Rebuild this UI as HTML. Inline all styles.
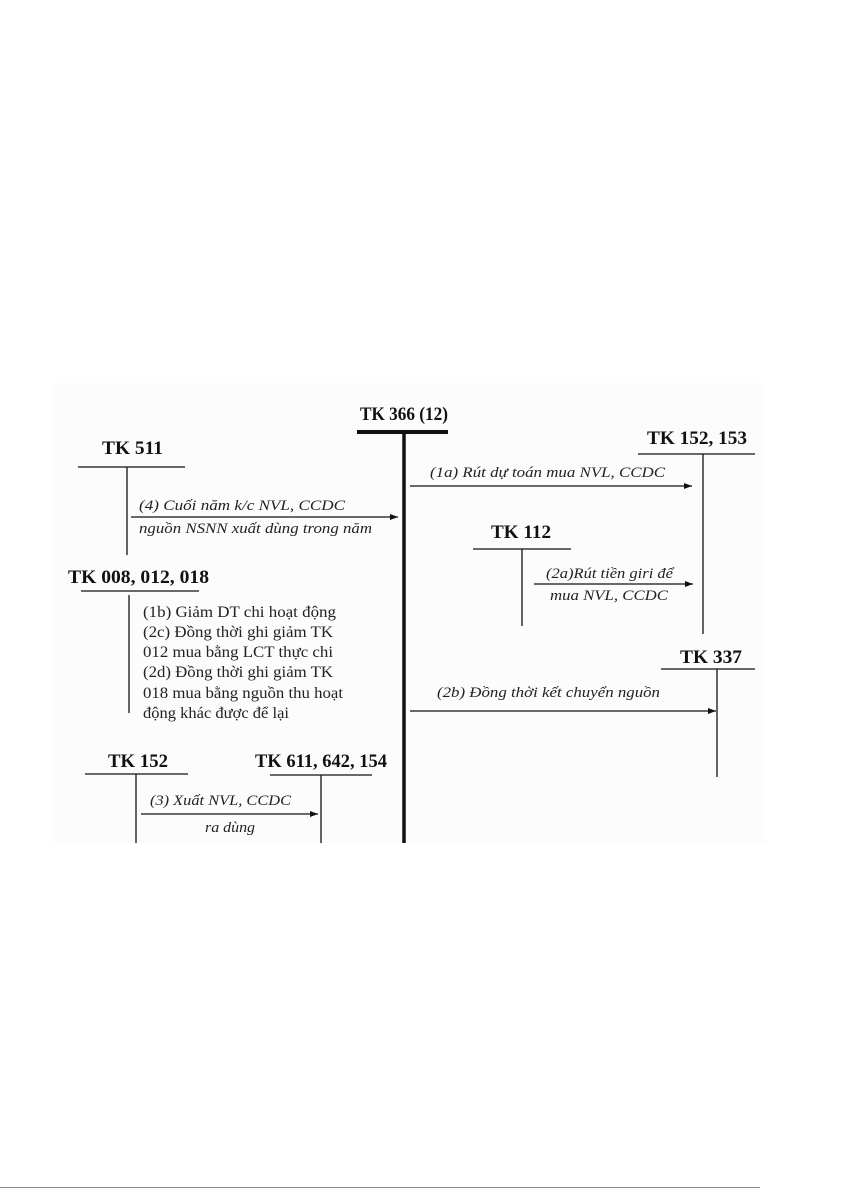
<!DOCTYPE html>
<html><head><meta charset="utf-8"><style>
html,body{margin:0;padding:0;background:#fff;}
svg{display:block}
.b{font-family:"Liberation Serif",serif;font-weight:bold;font-size:19px;fill:#111}
.i{font-family:"Liberation Serif",serif;font-style:italic;font-size:15px;fill:#222}
.r{font-family:"Liberation Serif",serif;font-size:16px;fill:#222}
</style></head><body>
<svg width="841" height="1191" viewBox="0 0 841 1191" xmlns="http://www.w3.org/2000/svg">
<defs><marker id="a" markerWidth="8" markerHeight="6" refX="8" refY="3" orient="auto" markerUnits="userSpaceOnUse"><path d="M0,0 L8,3 L0,6 z" fill="#111"/></marker></defs>
<rect x="52" y="383" width="713" height="460" fill="#fcfcfc"/>
<g stroke="#111" fill="none">
<line x1="357" y1="432" x2="448" y2="432" stroke-width="4"/>
<line x1="404" y1="432" x2="404" y2="843" stroke-width="3.5"/>
<line x1="78" y1="467" x2="185" y2="467" stroke-width="1.3"/>
<line x1="127" y1="467" x2="127" y2="555" stroke-width="1.3"/>
<line x1="131" y1="517" x2="398" y2="517" stroke-width="1.3" marker-end="url(#a)"/>
<line x1="81" y1="591" x2="199" y2="591" stroke-width="1.3"/>
<line x1="129" y1="595" x2="129" y2="713" stroke-width="1.3"/>
<line x1="638" y1="454" x2="755" y2="454" stroke-width="1.3"/>
<line x1="703" y1="454" x2="703" y2="634" stroke-width="1.3"/>
<line x1="410" y1="486" x2="692" y2="486" stroke-width="1.3" marker-end="url(#a)"/>
<line x1="473" y1="549" x2="571" y2="549" stroke-width="1.3"/>
<line x1="522" y1="549" x2="522" y2="626" stroke-width="1.3"/>
<line x1="534" y1="584" x2="693" y2="584" stroke-width="1.3" marker-end="url(#a)"/>
<line x1="661" y1="669" x2="755" y2="669" stroke-width="1.3"/>
<line x1="717" y1="669" x2="717" y2="777" stroke-width="1.3"/>
<line x1="410" y1="711" x2="716" y2="711" stroke-width="1.3" marker-end="url(#a)"/>
<line x1="85" y1="774" x2="188" y2="774" stroke-width="1.3"/>
<line x1="136" y1="774" x2="136" y2="843" stroke-width="1.3"/>
<line x1="270" y1="775" x2="372" y2="775" stroke-width="1.3"/>
<line x1="321" y1="775" x2="321" y2="843" stroke-width="1.3"/>
<line x1="141" y1="814" x2="318" y2="814" stroke-width="1.3" marker-end="url(#a)"/>
<line x1="0" y1="1187.5" x2="760" y2="1187.5" stroke="#888" stroke-width="1"/>
</g>
<text class="b" x="360" y="420" textLength="88" lengthAdjust="spacingAndGlyphs">TK 366 (12)</text>
<text class="b" x="102" y="454" textLength="61" lengthAdjust="spacingAndGlyphs">TK 511</text>
<text class="b" x="68" y="583" textLength="141" lengthAdjust="spacingAndGlyphs">TK 008, 012, 018</text>
<text class="b" x="647" y="444" textLength="100" lengthAdjust="spacingAndGlyphs">TK 152, 153</text>
<text class="b" x="491" y="538" textLength="60" lengthAdjust="spacingAndGlyphs">TK 112</text>
<text class="b" x="680" y="663" textLength="62" lengthAdjust="spacingAndGlyphs">TK 337</text>
<text class="b" x="108" y="767" textLength="60" lengthAdjust="spacingAndGlyphs">TK 152</text>
<text class="b" x="255" y="767" textLength="132" lengthAdjust="spacingAndGlyphs">TK 611, 642, 154</text>
<text class="i" x="139" y="510" textLength="206" lengthAdjust="spacingAndGlyphs">(4) Cuối năm k/c NVL, CCDC</text>
<text class="i" x="139" y="533" textLength="233" lengthAdjust="spacingAndGlyphs">nguồn NSNN xuất dùng trong năm</text>
<text class="i" x="430" y="477" textLength="235" lengthAdjust="spacingAndGlyphs">(1a) Rút dự toán mua NVL, CCDC</text>
<text class="i" x="546" y="578" textLength="127" lengthAdjust="spacingAndGlyphs">(2a)Rút tiền giri để</text>
<text class="i" x="550" y="600" textLength="118" lengthAdjust="spacingAndGlyphs">mua NVL, CCDC</text>
<text class="i" x="437" y="697" textLength="223" lengthAdjust="spacingAndGlyphs">(2b) Đồng thời kết chuyển nguồn</text>
<text class="i" x="150" y="805" textLength="141" lengthAdjust="spacingAndGlyphs">(3) Xuất NVL, CCDC</text>
<text class="i" x="205" y="832" textLength="50" lengthAdjust="spacingAndGlyphs">ra dùng</text>
<text class="r" x="143" y="617" textLength="193" lengthAdjust="spacingAndGlyphs">(1b) Giảm DT chi hoạt động</text>
<text class="r" x="143" y="637" textLength="190" lengthAdjust="spacingAndGlyphs">(2c) Đồng thời ghi giảm TK</text>
<text class="r" x="143" y="657" textLength="190" lengthAdjust="spacingAndGlyphs">012 mua bằng LCT thực chi</text>
<text class="r" x="143" y="677" textLength="190" lengthAdjust="spacingAndGlyphs">(2d) Đồng thời ghi giảm TK</text>
<text class="r" x="143" y="698" textLength="200" lengthAdjust="spacingAndGlyphs">018 mua bằng nguồn thu hoạt</text>
<text class="r" x="143" y="718" textLength="146" lengthAdjust="spacingAndGlyphs">động khác được để lại</text>
</svg>
</body></html>
